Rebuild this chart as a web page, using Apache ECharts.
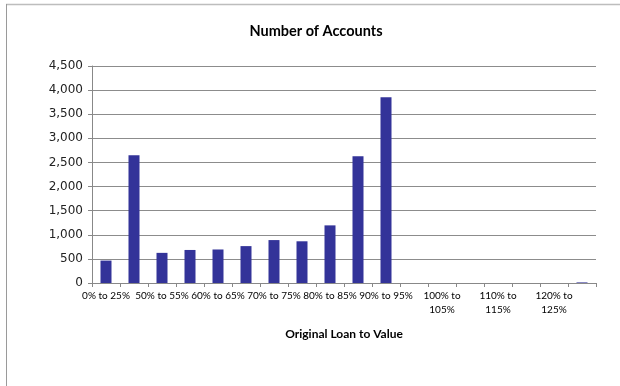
<!DOCTYPE html>
<html><head><meta charset="utf-8">
<script src="https://cdn.jsdelivr.net/npm/echarts@6/dist/echarts.min.js"></script>
<style>html,body{margin:0;padding:0;background:#fff}#c{width:620px;height:386px}</style>
</head><body><div id="c"></div>
<script>
const categories = ["0% to 25%","25% to 50%","50% to 55%","55% to 60%","60% to 65%","65% to 70%","70% to 75%","75% to 80%","80% to 85%","85% to 90%","90% to 95%","95% to 100%","100% to 105%","105% to 110%","110% to 115%","115% to 120%","120% to 125%","125% +"];
const accounts = [465, 2650, 625, 685, 695, 765, 890, 865, 1195, 2630, 3850, 0, 0, 0, 0, 0, 0, 12];
const yTicks = {min: 0, max: 4500, interval: 500};

const chart = echarts.init(document.getElementById('c'), null, {renderer: 'canvas'});
chart.setOption({
  animation: false,
  backgroundColor: '#fff',
  title: {
    text: 'Number of Accounts', left: 311, top: 19, textAlign: 'center',
    textStyle: {fontFamily: 'Lato', fontWeight: 'bold', fontSize: 14.5, color: '#000'}
  },
  graphic: [
    {type: 'line', shape: {x1: 6, y1: 4.5, x2: 620, y2: 4.5}, style: {stroke: '#bdbdbd', lineWidth: 1.5}},
    {type: 'line', shape: {x1: 6.5, y1: 4, x2: 6.5, y2: 386}, style: {stroke: '#9a9a9a', lineWidth: 1}}
  ],
  grid: {left: 92, right: 24, top: 66, bottom: 103},
  xAxis: {
    type: 'category', data: categories, boundaryGap: true,
    name: 'Original Loan to Value', nameLocation: 'middle', nameGap: 45,
    nameTextStyle: {fontFamily: 'Lato', fontWeight: 'bold', fontSize: 12, color: '#000'},
    axisLine: {lineStyle: {color: '#888', width: 1}},
    axisTick: {show: true, alignWithLabel: false, interval: 0, length: 4, lineStyle: {color: '#888'}},
    axisLabel: {
      interval: 1, fontFamily: 'Lato', fontSize: 10, color: '#000', margin: 6, lineHeight: 14,
      formatter: v => /^\d{3}/.test(v) ? v.replace(' to ', ' to\n') : v
    },
    splitLine: {show: false}
  },
  yAxis: {
    type: 'value', min: yTicks.min, max: yTicks.max, interval: yTicks.interval,
    axisLine: {show: true, lineStyle: {color: '#888'}},
    axisTick: {show: true, length: 4, lineStyle: {color: '#888'}},
    axisLabel: {fontFamily: 'DejaVu Sans', fontSize: 12, color: '#222', margin: 9,
      formatter: v => v.toLocaleString('en-US')},
    splitLine: {lineStyle: {color: '#8c8c8c', width: 1}}
  },
  series: [{
    type: 'bar', data: accounts, barWidth: 11,
    itemStyle: {color: '#333399'}
  }]
});
</script></body></html>
